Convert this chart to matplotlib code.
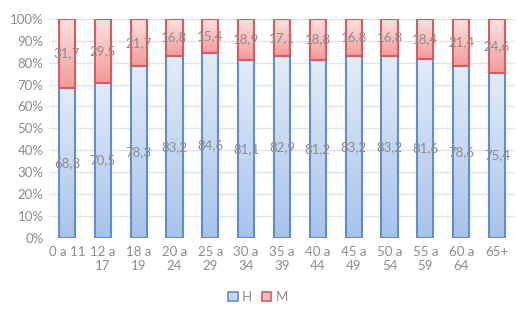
import matplotlib
matplotlib.use("Agg")
import matplotlib.pyplot as plt
import numpy as np
from matplotlib.colors import LinearSegmentedColormap
from matplotlib.patches import Patch

categories = ["0 a 11", "12 a\n17", "18 a\n19", "20 a\n24", "25 a\n29", "30 a\n34", "35 a\n39",
              "40 a\n44", "45 a\n49", "50 a\n54", "55 a\n59", "60 a\n64", "65+"]
h_vals = [68.3, 70.5, 78.3, 83.2, 84.6, 81.1, 82.9, 81.2, 83.2, 83.2, 81.6, 78.6, 75.4]
m_vals = [31.7, 29.5, 21.7, 16.8, 15.4, 18.9, 17.1, 18.8, 16.8, 16.8, 18.4, 21.4, 24.6]

plt.rcParams['font.family'] = ['Lato', 'DejaVu Sans']
gray = '#8c8c8c'

fig = plt.figure(figsize=(5.16, 3.16), dpi=100)
ax = fig.add_axes([0.095, 0.248, 0.903, 0.692])

x = np.arange(len(categories))
w = 0.45
h_cmap = LinearSegmentedColormap.from_list('h', ['#a8c3ea', '#e3ecf8'])
m_cmap = LinearSegmentedColormap.from_list('m', ['#f29b9b', '#fde2e2'])
grad = np.linspace(0, 1, 100).reshape(-1, 1)

for xi, hv, mv in zip(x, h_vals, m_vals):
    b1 = ax.bar(xi, hv / 100, w, color='none', edgecolor='#5f8fd0', linewidth=1.5, zorder=3)[0]
    b2 = ax.bar(xi, mv / 100, w, bottom=hv / 100, color='none', edgecolor='#d95b5b',
                linewidth=1.5, zorder=3)[0]
    im1 = ax.imshow(grad, cmap=h_cmap, origin='lower', aspect='auto',
                    extent=[xi - w / 2, xi + w / 2, 0, hv / 100], zorder=2)
    im1.set_clip_path(b1)
    im2 = ax.imshow(grad, cmap=m_cmap, origin='lower', aspect='auto',
                    extent=[xi - w / 2, xi + w / 2, hv / 100, 1], zorder=2)
    im2.set_clip_path(b2)
    ax.text(xi, hv / 200, f"{hv:.1f}".replace('.', ','), ha='center', va='center',
            color=gray, fontsize=9.5, zorder=4)
    ax.text(xi, hv / 100 + mv / 200, f"{mv:.1f}".replace('.', ','), ha='center', va='center',
            color=gray, fontsize=9.5, zorder=4)

ax.set_xlim(-0.5, len(categories) - 0.5)
ax.set_ylim(0, 1)
ax.set_yticks(np.arange(0, 1.01, 0.1))
ax.set_yticklabels([f"{int(round(v * 100))}%" for v in np.arange(0, 1.01, 0.1)])
ax.set_xticks(x)
ax.set_xticklabels(categories, linespacing=1.2)
ax.tick_params(axis='both', length=0, colors=gray, labelsize=9.5)
ax.tick_params(axis='x', pad=6)
ax.tick_params(axis='y', pad=4)
ax.grid(axis='y', color='#e3e3e3', linewidth=1, zorder=0)
ax.set_axisbelow(True)
for s in ax.spines.values():
    s.set_visible(False)

handles = [Patch(facecolor='#c5d7f1', edgecolor='#5f8fd0', linewidth=1.2, label='H'),
           Patch(facecolor='#f8bcbc', edgecolor='#d95b5b', linewidth=1.2, label='M')]
leg = fig.legend(handles=handles, loc='center', bbox_to_anchor=(0.5, 0.06), ncol=2,
                 frameon=False, fontsize=9.5, handlelength=0.7, handleheight=0.7,
                 handletextpad=0.3, columnspacing=0.8)
for t in leg.get_texts():
    t.set_color(gray)

fig.savefig('out.png', dpi=100)
